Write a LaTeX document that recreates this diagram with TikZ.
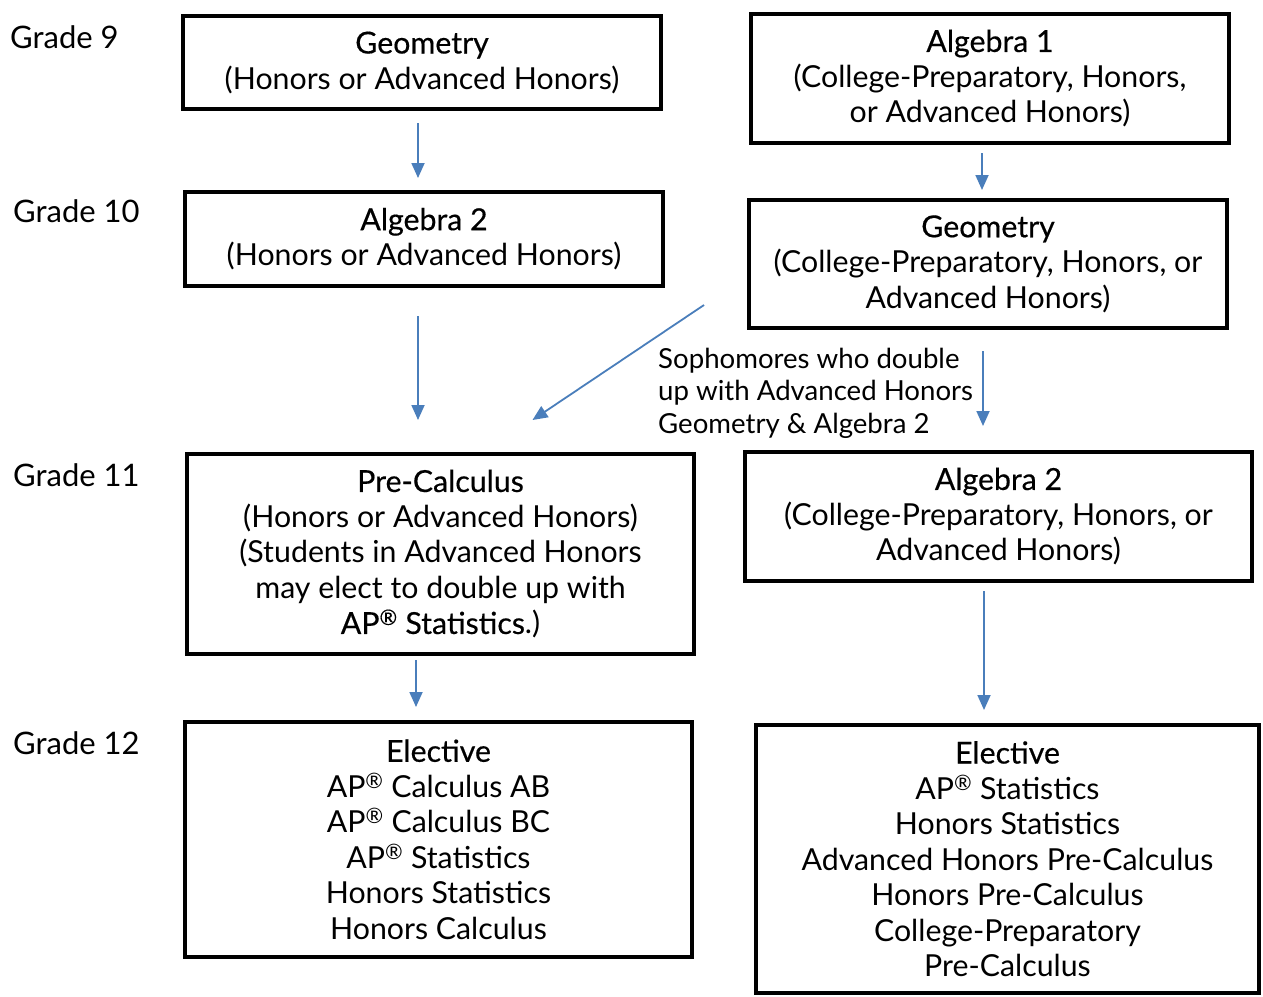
\documentclass[tikz,border=0pt]{standalone}
\usepackage{fontspec}
\setmainfont{Lato}
\newfontfamily\titlefont{Lato}[FakeBold=0.45]
\usetikzlibrary{arrows.meta,positioning,calc}
\definecolor{PathBlue}{HTML}{4A7EBB}

\begin{document}
\begin{tikzpicture}[x=1pt,y=-1pt,
  course/.style={draw=black,line width=4pt,align=center,inner sep=0pt,font=\fontsize{30.3}{35.5}\selectfont},
  grade/.style={anchor=west,inner sep=0pt,font=\fontsize{31}{34}\selectfont},
  note/.style={anchor=west,align=left,inner sep=0pt,font=\fontsize{27.6}{32.5}\selectfont},
  arr/.style={-{Triangle[length=15pt,width=13pt]},draw=PathBlue,line width=1.8pt}]
\useasboundingbox (0,0) rectangle (1263,996);
% grade labels
\node[grade] (gr9) at (10,37) {Grade 9};
\node[grade] (gr10) at (13,211) {Grade 10};
\node[grade] (gr11) at (13,475) {Grade 11};
\node[grade] (gr12) at (13,743) {Grade 12};
% course boxes
\node[course,minimum width=478pt,minimum height=93pt] (geoL) at (422,62.5) {{\titlefont Geometry}\\(Honors or Advanced Honors)};
\node[course,minimum width=478pt,minimum height=129pt] (algOne) at (990,78.5) {{\titlefont Algebra 1}\\(College-Preparatory, Honors,\\or Advanced Honors)};
\node[course,minimum width=478pt,minimum height=94pt] (algTwoL) at (424,239) {{\titlefont Algebra 2}\\(Honors or Advanced Honors)};
\node[course,minimum width=478pt,minimum height=128pt] (geoR) at (988,264) {{\titlefont Geometry}\\(College-Preparatory, Honors, or\\Advanced Honors)};
\node[course,minimum width=507pt,minimum height=200pt] (preCalc) at (440.5,554) {{\titlefont Pre-Calculus}\\(Honors or Advanced Honors)\\(Students in Advanced Honors\\may elect to double up with\\{\titlefont AP\textsuperscript{®} Statistics}.)};
\node[course,minimum width=507pt,minimum height=129pt] (algTwoR) at (998.5,516.5) {{\titlefont Algebra 2}\\(College-Preparatory, Honors, or\\Advanced Honors)};
\node[course,minimum width=507pt,minimum height=235pt] (electL) at (438.5,839.5) {{\titlefont Elective}\\AP\textsuperscript{®} Calculus AB\\AP\textsuperscript{®} Calculus BC\\AP\textsuperscript{®} Statistics\\Honors Statistics\\Honors Calculus};
\node[course,minimum width=503pt,minimum height=268pt] (electR) at (1007.5,859) {{\titlefont Elective}\\AP\textsuperscript{®} Statistics\\Honors Statistics\\Advanced Honors Pre-Calculus\\Honors Pre-Calculus\\College-Preparatory\\Pre-Calculus};
\node[note] (soph) at (658,393) {Sophomores who double\\up with Advanced Honors\\Geometry \& Algebra 2};
% arrows
\draw[arr,shorten <=12pt,shorten >=12pt] ([xshift=-4pt]geoL.south) -- ([xshift=-4pt]geoL.south |- algTwoL.north);
\draw[arr,shorten <=8pt,shorten >=8pt] ([xshift=-8pt]algOne.south) -- ([xshift=-8pt]algOne.south |- geoR.north);
\draw[arr,shorten <=28pt,shorten >=32pt] ([xshift=-6pt]algTwoL.south) -- ([xshift=-6pt]algTwoL.south |- preCalc.north);
\draw[arr] ([shift={(-43pt,25pt)}]geoR.south west) -- ([shift={(92pt,32pt)}]preCalc.north);
\draw[arr,shorten <=21pt,shorten >=24pt] ([xshift=-5pt]geoR.south) -- ([xshift=-5pt]geoR.south |- algTwoR.north);
\draw[arr,shorten <=4pt,shorten >=13pt] ([xshift=-24.5pt]preCalc.south) -- ([xshift=-24.5pt]preCalc.south |- electL.north);
\draw[arr,shorten <=8pt,shorten >=13pt] ([xshift=-14.5pt]algTwoR.south) -- ([xshift=-14.5pt]algTwoR.south |- electR.north);
\end{tikzpicture}
\end{document}
